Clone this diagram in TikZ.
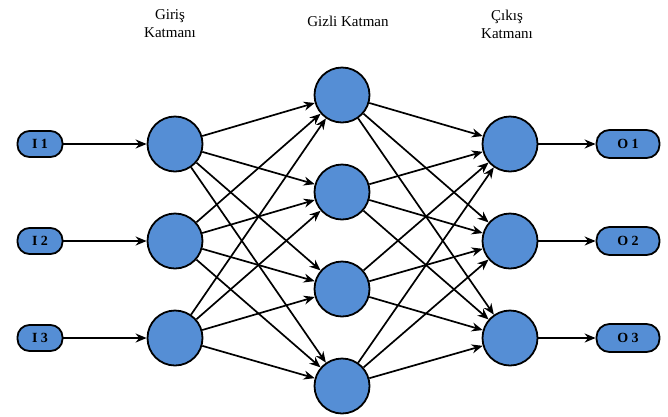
\documentclass[tikz,border=0pt]{standalone}
\usepackage{fontspec}
\setmainfont{Liberation Serif}
\usetikzlibrary{arrows.meta}
\definecolor{nblue}{RGB}{85,142,213}
\begin{document}
\begin{tikzpicture}[x=1pt,y=-1pt,
  neuron/.style={circle, draw=black, line width=1.8pt, fill=nblue, minimum size=55pt, inner sep=0pt},
  iobox/.style={rectangle, draw=black, line width=1.8pt, fill=nblue, minimum width=45pt, minimum height=26pt, rounded corners=12pt, inner sep=0pt, font=\bfseries\fontsize{14}{16}\selectfont},
  obox/.style={iobox, minimum width=63pt, minimum height=28pt, rounded corners=13pt},
  conn/.style={line width=1.7pt, -{Stealth[length=11pt,width=9pt]}},
  lbl/.style={align=center, font=\fontsize{15}{18}\selectfont, inner sep=0pt}
]
\useasboundingbox (0,0) rectangle (668,416);

\node[lbl] (tin) at (170,24) {Giriş\\Katmanı};
\node[lbl] (thid) at (348,21) {Gizli Katman};
\node[lbl] (tout) at (507,24) {Çıkış\\Katmanı};

\foreach \i/\y in {1/144,2/241,3/338} {
  \node[iobox] (I\i) at (40,\y) {I \i};
  \node[neuron] (a\i) at (175,\y) {};
  \node[neuron] (c\i) at (510,\y) {};
  \node[obox] (O\i) at (628,\y) {O \i};
}
\foreach \j/\y in {1/95,2/192,3/289,4/386} {
  \node[neuron] (b\j) at (342,\y) {};
}

\foreach \i in {1,2,3} {
  \draw[conn] (I\i) -- (a\i);
  \draw[conn] (c\i) -- (O\i);
  \foreach \j in {1,2,3,4} {
    \draw[conn] (a\i) -- (b\j);
    \draw[conn] (b\j) -- (c\i);
  }
}
\end{tikzpicture}
\end{document}
